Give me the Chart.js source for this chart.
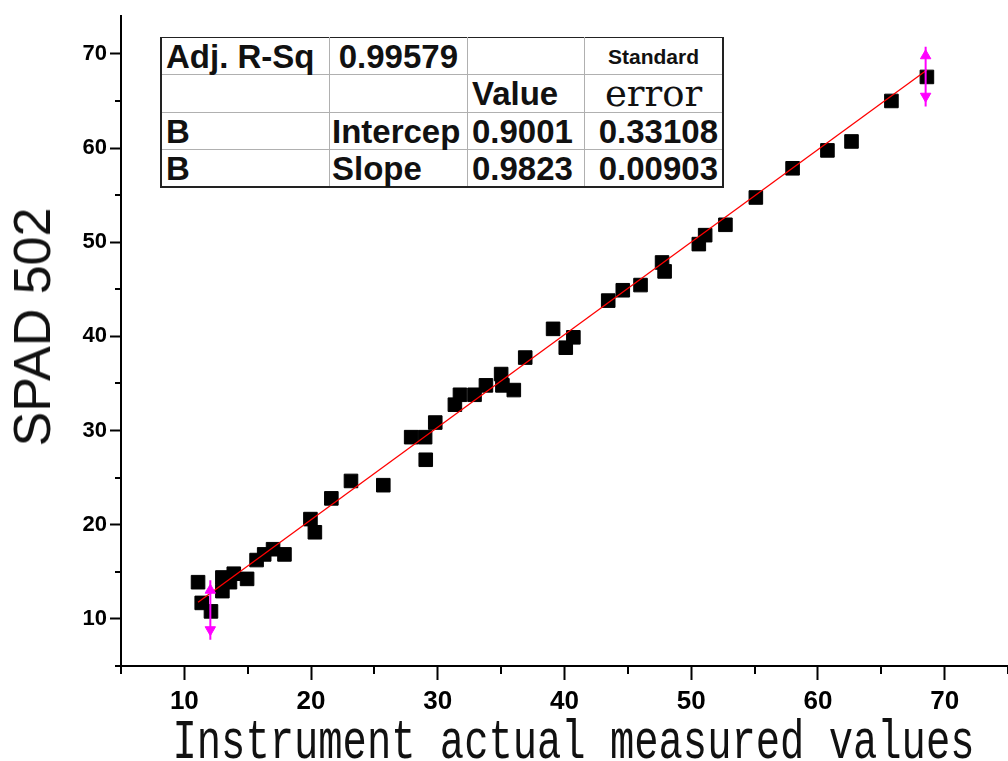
<!DOCTYPE html>
<html>
<head>
  <meta charset="UTF-8" />
  <title>SPAD 502 vs instrument</title>
  <script src="https://cdn.jsdelivr.net/npm/chart.js"></script>
  <style>
    body {
      margin: 0;
      background: white;
    }
    #wrap {
      position: relative;
      width: 1008px;
      height: 761px;
      overflow: hidden;
    }
    canvas {
      position: absolute;
      left: 0;
      top: 0;
    }
    .ytitle {
      position: absolute;
      left: 32px;
      top: 327px;
      transform: translate(-50%, -50%) rotate(-90deg);
      font-family: "Liberation Sans", Arial, sans-serif;
      font-size: 52px;
      color: #111;
      white-space: nowrap;
    }
    .xtitle {
      position: absolute;
      left: 0;
      width: 1147px;
      top: 723px;
      height: 40px;
      line-height: 40px;
      text-align: center;
      font-family: "Liberation Mono", monospace;
      font-size: 40.5px;
      color: #111;
      white-space: nowrap;
      transform: scaleY(1.35);
    }
    #fit {
      position: absolute;
      left: 160px;
      top: 37px;
      border-collapse: collapse;
      font-family: "Liberation Sans", Arial, sans-serif;
      font-weight: bold;
      font-size: 33px;
      line-height: 1;
      color: #111;
      background: white;
    }
    #fit td {
      border: 1px solid #b0b0b0;
      padding: 0 4px;
      white-space: nowrap;
      height: 36px;
    }
    #fit tr:first-child td { border-top: 1px solid #222; }
    #fit tr:last-child td { border-bottom: 2px solid #222; }
    #fit td:first-child { border-left: 2px solid #222; }
    #fit td:last-child { border-right: 2px solid #222; }
    #fit td.r { text-align: right; }
    #fit td.std {
      border-top: hidden;
      border-bottom: 1px dashed #d0d0d0;
      text-align: center;
      font-size: 21px;
    }
    #fit td.err {
      font-family: "DejaVu Serif", serif;
      font-weight: normal;
      font-size: 37px;
      text-align: center;
    }
  </style>
</head>
<body>
  <div id="wrap">
    <canvas id="spadChart" width="1008" height="761"></canvas>
    <div class="ytitle">SPAD 502</div>
    <div class="xtitle">Instrument actual measured values</div>
    <table id="fit">
      <tr><td style="width:159px">Adj. R-Sq</td><td class="r" style="width:124px;padding-right:9px">0.99579</td><td style="width:108px"></td><td class="std" style="width:129px">Standard</td></tr>
      <tr><td></td><td></td><td>Value</td><td class="err">error</td></tr>
      <tr><td>B</td><td style="padding-left:2px">Intercep</td><td>0.9001</td><td class="r">0.33108</td></tr>
      <tr><td>B</td><td style="padding-left:2px">Slope</td><td>0.9823</td><td class="r">0.00903</td></tr>
    </table>
  </div>
  <script>
    // instrument reading (x) vs SPAD 502 reading (y)
    const instrument = [11.08, 11.37, 12.10, 13.00, 13.00, 13.60, 13.90, 14.95, 15.70, 16.30, 17.00, 17.90,
      19.95, 20.30, 21.60, 23.15, 25.70, 27.90, 29.00, 29.05, 29.80, 31.35, 31.75, 32.90, 33.80, 35.00,
      35.10, 36.00, 36.90, 39.10, 40.10, 40.70, 43.45, 44.60, 46.00, 47.70, 47.90, 50.60, 51.10, 52.70,
      55.10, 58.00, 60.75, 62.65, 65.80, 68.60];
    const spad = [13.90, 11.70, 10.80, 12.95, 14.40, 13.90, 14.80, 14.25, 16.25, 16.85, 17.40, 16.85,
      20.60, 19.20, 22.80, 24.65, 24.20, 29.30, 29.30, 26.90, 30.85, 32.75, 33.80, 33.80, 34.80, 36.00,
      34.80, 34.30, 37.75, 40.80, 38.80, 39.90, 43.80, 44.90, 45.45, 47.85, 46.90, 49.80, 50.75, 51.85,
      54.75, 57.85, 59.75, 60.70, 65.00, 67.55];

    // linear fit line ends
    const fitX = [11.08, 68.60];
    const fitY = [11.78, 68.28];

    // drag handles drawn by the fitting tool (magenta)
    const handleX = [12.05, 68.5];
    const handleTop = [14.1, 70.75];
    const handleBottom = [7.8, 64.4];
    const arrowUp = [13.05, 69.8];
    const arrowDown = [8.85, 65.5];

    const majorTicks = [10, 20, 30, 40, 50, 60, 70];
    const minorX = [5, 15, 25, 35, 45, 55, 65, 75];
    const minorY = [5, 15, 25, 35, 45, 55, 65];

    const points = instrument.map((x, i) => ({ x: x, y: spad[i] }));
    const fitLine = fitX.map((x, i) => ({ x: x, y: fitY[i] }));

    const handleSets = handleX.map((x, i) => ({
      type: 'line',
      data: [{ x: x, y: handleTop[i] }, { x: x, y: handleBottom[i] }],
      borderColor: '#ff00ff',
      borderWidth: 2,
      pointRadius: 0,
      order: 0
    }));
    const arrowSet = {
      type: 'scatter',
      data: handleX.flatMap((x, i) => [{ x: x, y: arrowUp[i] }, { x: x, y: arrowDown[i] }]),
      pointStyle: 'triangle',
      pointRadius: 6,
      rotation: ctx => (ctx.dataIndex % 2 ? 180 : 0),
      backgroundColor: '#ff00ff',
      borderColor: '#ff00ff',
      borderWidth: 1,
      order: 0
    };

    const minorTicks = {
      id: 'minorTicks',
      afterDraw(chart) {
        const c = chart.ctx;
        const xs = chart.scales.x, ys = chart.scales.y;
        c.save();
        c.strokeStyle = '#000';
        c.lineWidth = 2;
        c.beginPath();
        minorX.forEach(v => {
          const px = Math.round(xs.getPixelForValue(v));
          c.moveTo(px, xs.top);
          c.lineTo(px, xs.top + 8);
        });
        minorY.forEach(v => {
          const py = Math.round(ys.getPixelForValue(v));
          c.moveTo(ys.right, py);
          c.lineTo(ys.right - 6, py);
        });
        c.stroke();
        c.restore();
      }
    };

    const setTicks = scale => { scale.ticks = majorTicks.map(v => ({ value: v })); };

    new Chart(document.getElementById('spadChart').getContext('2d'), {
      type: 'scatter',
      data: {
        datasets: [
          ...handleSets,
          arrowSet,
          {
            type: 'line',
            data: fitLine,
            borderColor: '#ff0000',
            borderWidth: 1.3,
            pointRadius: 0,
            order: 1
          },
          {
            data: points,
            pointStyle: 'rect',
            pointRadius: 9.6,
            backgroundColor: '#000',
            borderColor: '#000',
            borderWidth: 1,
            order: 2
          }
        ]
      },
      options: {
        responsive: false,
        animation: false,
        layout: { autoPadding: false, padding: { top: 10, right: 0, left: 0, bottom: 0 } },
        plugins: {
          legend: { display: false },
          title: { display: false },
          tooltip: { enabled: false }
        },
        scales: {
          x: {
            type: 'linear',
            min: 5,
            max: 75,
            afterBuildTicks: setTicks,
            afterFit: s => { s.height = 95; },
            border: { color: '#000', width: 2 },
            grid: { drawOnChartArea: false, tickLength: 14, tickWidth: 2, tickColor: '#000' },
            ticks: {
              color: '#000',
              padding: 6,
              maxRotation: 0,
              font: { family: "'Liberation Sans Narrow', 'Liberation Sans'", size: 26, weight: 'bold' }
            }
          },
          y: {
            type: 'linear',
            min: 5,
            max: 74,
            afterBuildTicks: setTicks,
            afterFit: s => { s.width = 121; },
            border: { color: '#000', width: 2 },
            grid: { drawOnChartArea: false, tickLength: 11, tickWidth: 2, tickColor: '#000' },
            ticks: {
              color: '#000',
              padding: 3,
              font: { family: "'Liberation Sans'", size: 22, weight: 'bold' }
            }
          }
        }
      },
      plugins: [minorTicks]
    });
  </script>
</body>
</html>
